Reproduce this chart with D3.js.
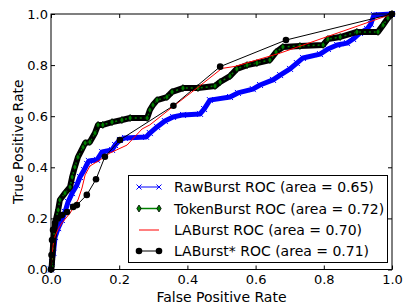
<!DOCTYPE html>
<html>
<head>
<meta charset="utf-8">
<script src="https://cdn.jsdelivr.net/npm/d3@7"></script>
<style>
  body { margin: 0; background: #fff; }
  svg { display: block; font-family: "DejaVu Sans", sans-serif; }
</style>
</head>
<body>
<svg width="405" height="306"></svg>
<script>
// ROC curves
var rawFpr = [0, 0.003, 0.007, 0.012, 0.021, 0.032, 0.041, 0.05, 0.062, 0.076, 0.085, 0.097, 0.106, 0.111, 0.135, 0.15, 0.179, 0.188, 0.202, 0.217, 0.279, 0.29, 0.311, 0.334, 0.358, 0.387, 0.437, 0.449, 0.466, 0.525, 0.548, 0.592, 0.613, 0.651, 0.672, 0.701, 0.721, 0.739, 0.789, 0.812, 0.839, 0.868, 0.886, 0.906, 0.927, 0.938, 0.947, 1];
var rawTpr = [0, 0.029, 0.065, 0.127, 0.162, 0.194, 0.225, 0.264, 0.299, 0.331, 0.362, 0.389, 0.413, 0.425, 0.429, 0.46, 0.468, 0.487, 0.507, 0.515, 0.519, 0.534, 0.558, 0.581, 0.597, 0.605, 0.609, 0.628, 0.663, 0.675, 0.691, 0.706, 0.722, 0.742, 0.761, 0.785, 0.808, 0.828, 0.843, 0.863, 0.879, 0.886, 0.902, 0.926, 0.941, 0.961, 0.996, 1];

var tokFpr = [0, 0.002, 0.007, 0.012, 0.021, 0.026, 0.041, 0.056, 0.062, 0.07, 0.079, 0.094, 0.1, 0.114, 0.129, 0.138, 0.152, 0.179, 0.208, 0.232, 0.282, 0.29, 0.299, 0.311, 0.34, 0.355, 0.387, 0.431, 0.481, 0.496, 0.525, 0.545, 0.575, 0.604, 0.642, 0.66, 0.68, 0.73, 0.798, 0.812, 0.848, 0.897, 0.959, 0.974, 0.988, 1];
var tokTpr = [0, 0.011, 0.115, 0.182, 0.233, 0.272, 0.299, 0.323, 0.362, 0.401, 0.44, 0.479, 0.495, 0.499, 0.534, 0.566, 0.566, 0.577, 0.585, 0.593, 0.593, 0.624, 0.644, 0.663, 0.675, 0.695, 0.71, 0.71, 0.718, 0.734, 0.757, 0.785, 0.8, 0.808, 0.82, 0.851, 0.871, 0.875, 0.879, 0.902, 0.91, 0.93, 0.93, 0.957, 0.984, 1];

var laFpr = [0, 0.003, 0.006, 0.012, 0.02, 0.032, 0.056, 0.079, 0.091, 0.1, 0.114, 0.144, 0.173, 0.223, 0.267, 0.29, 0.358, 0.428, 0.501, 0.54, 0.672, 1];
var laTpr = [0, 0.057, 0.096, 0.131, 0.155, 0.182, 0.221, 0.272, 0.319, 0.37, 0.405, 0.429, 0.456, 0.487, 0.55, 0.566, 0.638, 0.71, 0.787, 0.795, 0.847, 1];

var laStarFpr = [0, 0.0015, 0.003, 0.006, 0.012, 0.02, 0.032, 0.047, 0.065, 0.076, 0.105, 0.132, 0.158, 0.202, 0.359, 0.496, 0.689, 1];
var laStarTpr = [0, 0.057, 0.115, 0.155, 0.182, 0.2, 0.213, 0.225, 0.245, 0.252, 0.292, 0.353, 0.441, 0.507, 0.641, 0.794, 0.898, 1];

var ticks = [0, 0.2, 0.4, 0.6, 0.8, 1.0];
var labels = ["RawBurst ROC (area = 0.65)", "TokenBurst ROC (area = 0.72)", "LABurst ROC (area = 0.70)", "LABurst* ROC (area = 0.71)"];

var svg = d3.select("svg");
var plotL = 51, plotR = 392, plotT = 14, plotB = 269.5;

var x = d3.scaleLinear().domain([0, 1]).range([plotL, plotR]);
var y = d3.scaleLinear().domain([0, 1]).range([plotB, plotT]);

function pts(xs, ys) {
  return xs.map(function (v, i) { return [v, ys[i]]; });
}
var line = d3.line().x(function (d) { return x(d[0]); }).y(function (d) { return y(d[1]); });

var plot = svg.append("g");

// RawBurst: dense blue x markers
var raw = pts(rawFpr, rawTpr);
plot.append("path").attr("d", line(raw)).attr("fill", "none")
  .attr("stroke", "#0000ff").attr("stroke-width", 5).attr("stroke-linejoin", "round");
function xMark(g, cx, cy, s) {
  g.append("path")
    .attr("d", "M" + (cx - s) + "," + (cy - s) + "L" + (cx + s) + "," + (cy + s) +
      "M" + (cx - s) + "," + (cy + s) + "L" + (cx + s) + "," + (cy - s))
    .attr("stroke", "#0000ff").attr("stroke-width", 1).attr("fill", "none");
}
raw.forEach(function (d) { xMark(plot, x(d[0]), y(d[1]), 3); });

// TokenBurst: dense green diamonds with black edges
var tok = pts(tokFpr, tokTpr);
plot.append("path").attr("d", line(tok)).attr("fill", "none")
  .attr("stroke", "#000").attr("stroke-width", 6).attr("stroke-linejoin", "round");
plot.append("path").attr("d", line(tok)).attr("fill", "none")
  .attr("stroke", "#008000").attr("stroke-width", 1.5).attr("stroke-dasharray", "2,3");
function diamond(g, cx, cy) {
  g.append("path")
    .attr("d", "M" + cx + "," + (cy - 3.5) + "L" + (cx + 2.2) + "," + cy + "L" + cx + "," + (cy + 3.5) + "L" + (cx - 2.2) + "," + cy + "Z")
    .attr("fill", "#008000").attr("stroke", "#000").attr("stroke-width", 0.8);
}
tok.forEach(function (d) { diamond(plot, x(d[0]), y(d[1])); });

// LABurst: plain red line
plot.append("path").attr("d", line(pts(laFpr, laTpr))).attr("fill", "none")
  .attr("stroke", "#ff0000").attr("stroke-width", 1);

// LABurst*: black line with circles
var star = pts(laStarFpr, laStarTpr);
plot.append("path").attr("d", line(star)).attr("fill", "none")
  .attr("stroke", "#000").attr("stroke-width", 1);
plot.selectAll("circle.star").data(star).enter().append("circle")
  .attr("cx", function (d) { return x(d[0]); })
  .attr("cy", function (d) { return y(d[1]); })
  .attr("r", 3.3).attr("fill", "#000");

// axes, ticks pointing inwards on all four sides
var fmt = d3.format(".1f");
svg.append("g").attr("transform", "translate(0," + plotB + ")")
  .call(d3.axisBottom(x).tickValues(ticks).tickFormat(fmt).tickSize(-4).tickSizeOuter(0).tickPadding(5));
svg.append("g").attr("transform", "translate(" + plotL + ",0)")
  .call(d3.axisLeft(y).tickValues(ticks).tickFormat(fmt).tickSize(-4).tickSizeOuter(0).tickPadding(3));
svg.append("g").attr("transform", "translate(0," + plotT + ")")
  .call(d3.axisTop(x).tickValues(ticks).tickFormat("").tickSize(-4).tickSizeOuter(0));
svg.append("g").attr("transform", "translate(" + plotR + ",0)")
  .call(d3.axisRight(y).tickValues(ticks).tickFormat("").tickSize(-4).tickSizeOuter(0));
svg.selectAll(".domain").remove();
svg.selectAll(".tick text").attr("font-size", 13).attr("font-family", "DejaVu Sans").attr("fill", "#000");

svg.append("rect").attr("x", plotL).attr("y", plotT)
  .attr("width", plotR - plotL).attr("height", plotB - plotT)
  .attr("fill", "none").attr("stroke", "#000").attr("stroke-width", 1);

svg.append("text").attr("x", (plotL + plotR) / 2).attr("y", 302)
  .attr("text-anchor", "middle").attr("font-size", 14).text("False Positive Rate");
svg.append("text").attr("transform", "translate(23," + (plotT + plotB) / 2 + ") rotate(-90)")
  .attr("text-anchor", "middle").attr("font-size", 14).text("True Positive Rate");

// legend
var lg = svg.append("g");
lg.append("rect").attr("x", 128.5).attr("y", 175.5).attr("width", 259).attr("height", 87)
  .attr("fill", "#fff").attr("stroke", "#000").attr("stroke-width", 1);
var rowY = [187, 208.5, 230, 251];
var hx0 = 139, hx1 = 159;
labels.forEach(function (t, i) {
  var ry = rowY[i];
  var col = ["#0000ff", "#008000", "#ff0000", "#000"][i];
  lg.append("line").attr("x1", hx0).attr("x2", hx1).attr("y1", ry).attr("y2", ry)
    .attr("stroke", col).attr("stroke-width", i === 1 ? 1.5 : 1);
  [hx0, hx1].forEach(function (hx) {
    if (i === 0) xMark(lg, hx, ry, 2.5);
    if (i === 1) diamond(lg, hx, ry);
    if (i === 3) lg.append("circle").attr("cx", hx).attr("cy", ry).attr("r", 3.3).attr("fill", "#000");
  });
  lg.append("text").attr("x", 174).attr("y", ry).attr("dy", "0.36em")
    .attr("font-size", 14).text(t);
});
</script>
</body>
</html>
